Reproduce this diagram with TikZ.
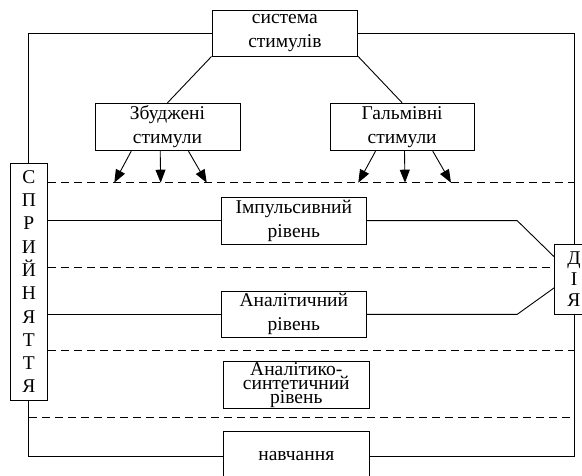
\documentclass[tikz,border=0pt]{standalone}
\usepackage{fontspec}
\setmainfont{Liberation Serif}
\usetikzlibrary{arrows.meta,calc}
\tikzset{
  box/.style={draw, line width=1pt, fill=white, inner sep=0pt, align=center,
    font=\fontsize{19.5}{24}\selectfont},
  conn/.style={line width=0.9pt},
  dashline/.style={line width=0.9pt, dash pattern=on 8pt off 5pt},
  arr/.style={line width=0.9pt, -{Triangle[length=13pt,width=10pt]}},
}
\begin{document}
\begin{tikzpicture}[x=1pt,y=-1pt]
\useasboundingbox (0,0) rectangle (582,475);
% boxes
\node[box, minimum width=145.7pt, minimum height=46pt] (top) at (284.85,33) {система\\стимулів};
\node[box, minimum width=145pt, minimum height=47.4pt] (zb) at (167.5,127) {Збуджені\\стимули};
\node[box, minimum width=144.3pt, minimum height=47.4pt] (gal) at (402.15,127) {Гальмівні\\стимули};
\node[box, minimum width=37.7pt, minimum height=236.7pt, font=\fontsize{19.5}{23.3}\selectfont] (spr) at (28.85,281.65) {С\\П\\Р\\И\\Й\\Н\\Я\\Т\\Т\\Я};
\node[box, minimum width=145.7pt, minimum height=46.7pt] (imp) at (293.85,220.65) {Імпульсивний\\рівень};
\node[box, minimum width=145.7pt, minimum height=46.7pt] (anl) at (293.85,314.35) {Аналітичний\\рівень};
\node[box, minimum width=146pt, minimum height=46.6pt, font=\fontsize{19.5}{14}\selectfont] (syn) at (296.3,385) {Аналітико-\\синтетичний\\рівень};
\node[box, minimum width=146pt, minimum height=50pt] (nav) at (296.3,456) {навчання};
\node[box, minimum width=38.6pt, minimum height=70.3pt, font=\fontsize{19.5}{21}\selectfont] (dia) at (574,279.15) {Д\\І\\Я};
% level coordinates
\coordinate (d1) at (0,182.7);
\coordinate (d2) at (0,267.3);
\coordinate (d3) at (0,350);
\coordinate (d4) at (0,417.3);
% dashed level lines
\draw[dashline] (spr.east |- d1) -- (dia.north |- d1);
\draw[dashline] (spr.east |- d2) -- (dia.west |- d2);
\draw[dashline] (spr.east |- d3) -- (dia.south |- d3);
\draw[dashline] (spr.south |- d4) -- (dia.south |- d4);
% outer loop
\draw[conn] (top.west) -| (spr.north);
\draw[conn] (top.east) -| (dia.north);
\draw[conn] (dia.south) |- (nav.east);
\draw[conn] (spr.south) |- (nav.west);
% stimulus tree
\draw[conn] (top.south west) -- (zb.north);
\draw[conn] (top.south east) -- (gal.north);
% arrows to first level
\coordinate (e1) at (114.3,182.7);
\coordinate (e2) at (160.7,182.7);
\coordinate (e3) at (206.7,182.7);
\coordinate (e4) at (358.3,182.7);
\coordinate (e5) at (405,182.7);
\coordinate (e6) at (451,182.7);
\draw[arr] ($(zb.south west)+(36.7,0)$) -- (e1);
\draw[arr] ($(zb.south west)+(65.7,0)$) -- (e2);
\draw[arr] ($(zb.south west)+(94,0)$) -- (e3);
\draw[arr] ($(gal.south west)+(46,0)$) -- (e4);
\draw[arr] ($(gal.south west)+(75,0)$) -- (e5);
\draw[arr] ($(gal.south west)+(103.3,0)$) -- (e6);
% perception -> levels -> action
\draw[conn] (spr.east |- imp.west) -- (imp.west);
\draw[conn] (spr.east |- anl.west) -- (anl.west);
\draw[conn] (imp.east) -- ++(150,0) -- ($(dia.north west)+(0,13.3)$);
\draw[conn] (anl.east) -- ++(150,0) -- ($(dia.south west)+(0,-27)$);
\end{tikzpicture}
\end{document}
